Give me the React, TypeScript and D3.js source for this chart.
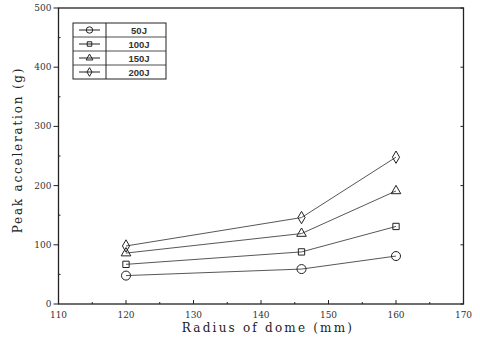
import React, { useRef, useEffect } from 'react';
import * as d3 from 'd3';

// radius of dome (mm)
const radii = [120, 146, 160];
const seriesNames = ['50J', '100J', '150J', '200J'];
const peak50 = [48, 59, 81];
const peak100 = [67, 88, 131];
const peak150 = [86, 119, 191];
const peak200 = [98, 146, 248];
const symbols = [d3.symbolCircle, d3.symbolSquare, d3.symbolTriangle, d3.symbolDiamond];
const symbolSizes = [64, 40, 40, 44];
const xTicks = [110, 120, 130, 140, 150, 160, 170];
const yTicks = [0, 100, 200, 300, 400, 500];

const App = () => {
  const ref = useRef<SVGSVGElement>(null);
  const width = 480;
  const height = 346;

  useEffect(() => {
    const svg = d3.select(ref.current);
    svg.selectAll('*').remove();

    const left = 58.5, right = 463.5, top = 8, bottom = 304;
    const x = d3.scaleLinear().domain([110, 170]).range([left, right]);
    const y = d3.scaleLinear().domain([0, 500]).range([bottom, top]);
    const all = [peak50, peak100, peak150, peak200];

    // frame
    svg.append('rect')
      .attr('x', left).attr('y', top)
      .attr('width', right - left).attr('height', bottom - top)
      .attr('fill', 'none').attr('stroke', '#222').attr('stroke-width', 1.3);

    // y axis: major ticks outward, minor inward
    const yAxis = svg.append('g').attr('font-family', '"DejaVu Serif", serif').attr('font-size', 9);
    yTicks.forEach(t => {
      yAxis.append('line').attr('x1', left - 5).attr('x2', left)
        .attr('y1', y(t)).attr('y2', y(t)).attr('stroke', '#222').attr('stroke-width', 1);
      yAxis.append('line').attr('x1', right - 3).attr('x2', right)
        .attr('y1', y(t)).attr('y2', y(t)).attr('stroke', '#222').attr('stroke-width', 1);
      yAxis.append('text').attr('x', left - 7).attr('y', y(t) + 3)
        .attr('text-anchor', 'end').attr('fill', '#333').text(t);
    });
    d3.range(50, 500, 100).forEach(t => {
      yAxis.append('line').attr('x1', left).attr('x2', left + 2)
        .attr('y1', y(t)).attr('y2', y(t)).attr('stroke', '#222').attr('stroke-width', 1);
    });

    // x axis: ticks inward
    const xAxis = svg.append('g').attr('font-family', '"DejaVu Serif", serif').attr('font-size', 9);
    xTicks.forEach(t => {
      xAxis.append('line').attr('x1', x(t)).attr('x2', x(t))
        .attr('y1', bottom).attr('y2', bottom - 4).attr('stroke', '#222').attr('stroke-width', 1);
      xAxis.append('text').attr('x', x(t)).attr('y', bottom + 14)
        .attr('text-anchor', 'middle').attr('fill', '#333').text(t);
    });
    d3.range(115, 170, 10).forEach(t => {
      xAxis.append('line').attr('x1', x(t)).attr('x2', x(t))
        .attr('y1', bottom).attr('y2', bottom - 2).attr('stroke', '#222').attr('stroke-width', 1);
    });

    // axis titles
    svg.append('text')
      .attr('x', 268).attr('y', 332)
      .attr('text-anchor', 'middle')
      .attr('font-family', '"DejaVu Serif", serif').attr('font-size', 12)
      .attr('letter-spacing', 2.2).attr('fill', '#222')
      .text('Radius of dome (mm)');
    svg.append('text')
      .attr('transform', `translate(22,150) rotate(-90)`)
      .attr('text-anchor', 'middle')
      .attr('font-family', '"DejaVu Serif", serif').attr('font-size', 12)
      .attr('letter-spacing', 1.8).attr('fill', '#222')
      .text('Peak acceleration (g)');

    // lines and markers
    const line = d3.line<number>().x((d, i) => x(radii[i])).y(d => y(d));
    all.forEach((vals, s) => {
      svg.append('path').datum(vals).attr('d', line)
        .attr('fill', 'none').attr('stroke', '#444').attr('stroke-width', 0.9);
      const sym = d3.symbol().type(symbols[s]).size(symbolSizes[s]);
      vals.forEach((v, i) => {
        svg.append('path').attr('d', sym)
          .attr('transform', `translate(${x(radii[i])},${y(v)})`)
          .attr('fill', 'none').attr('stroke', '#222').attr('stroke-width', 1);
      });
    });

    // legend table
    const lx = 73, ly = 23, lw = 93, rh = 14, divX = 106;
    const legend = svg.append('g');
    legend.append('rect').attr('x', lx).attr('y', ly)
      .attr('width', lw).attr('height', rh * 4)
      .attr('fill', 'white').attr('stroke', '#222').attr('stroke-width', 1);
    legend.append('line').attr('x1', divX).attr('x2', divX)
      .attr('y1', ly).attr('y2', ly + rh * 4).attr('stroke', '#222').attr('stroke-width', 1);
    seriesNames.forEach((name, s) => {
      const cy = ly + rh * s + rh / 2;
      if (s > 0) {
        legend.append('line').attr('x1', lx).attr('x2', lx + lw)
          .attr('y1', ly + rh * s).attr('y2', ly + rh * s)
          .attr('stroke', '#222').attr('stroke-width', 0.8);
      }
      legend.append('line').attr('x1', lx + 6).attr('x2', divX - 6)
        .attr('y1', cy).attr('y2', cy).attr('stroke', '#222').attr('stroke-width', 1);
      legend.append('path').attr('d', d3.symbol().type(symbols[s]).size(symbolSizes[s] * 0.5))
        .attr('transform', `translate(${(lx + divX) / 2},${cy})`)
        .attr('fill', 'none').attr('stroke', '#222').attr('stroke-width', 1);
      legend.append('text').attr('x', (divX + lx + lw) / 2 + 3).attr('y', cy + 3.5)
        .attr('text-anchor', 'middle')
        .attr('font-family', '"Liberation Sans", sans-serif').attr('font-size', 9.5)
        .attr('font-weight', 'bold').attr('fill', '#333')
        .text(name);
    });
  }, []);

  return <svg ref={ref} width={width} height={height} style={{ position: 'absolute', left: 0, top: 0, background: 'white' }} />;
};

export default App;
